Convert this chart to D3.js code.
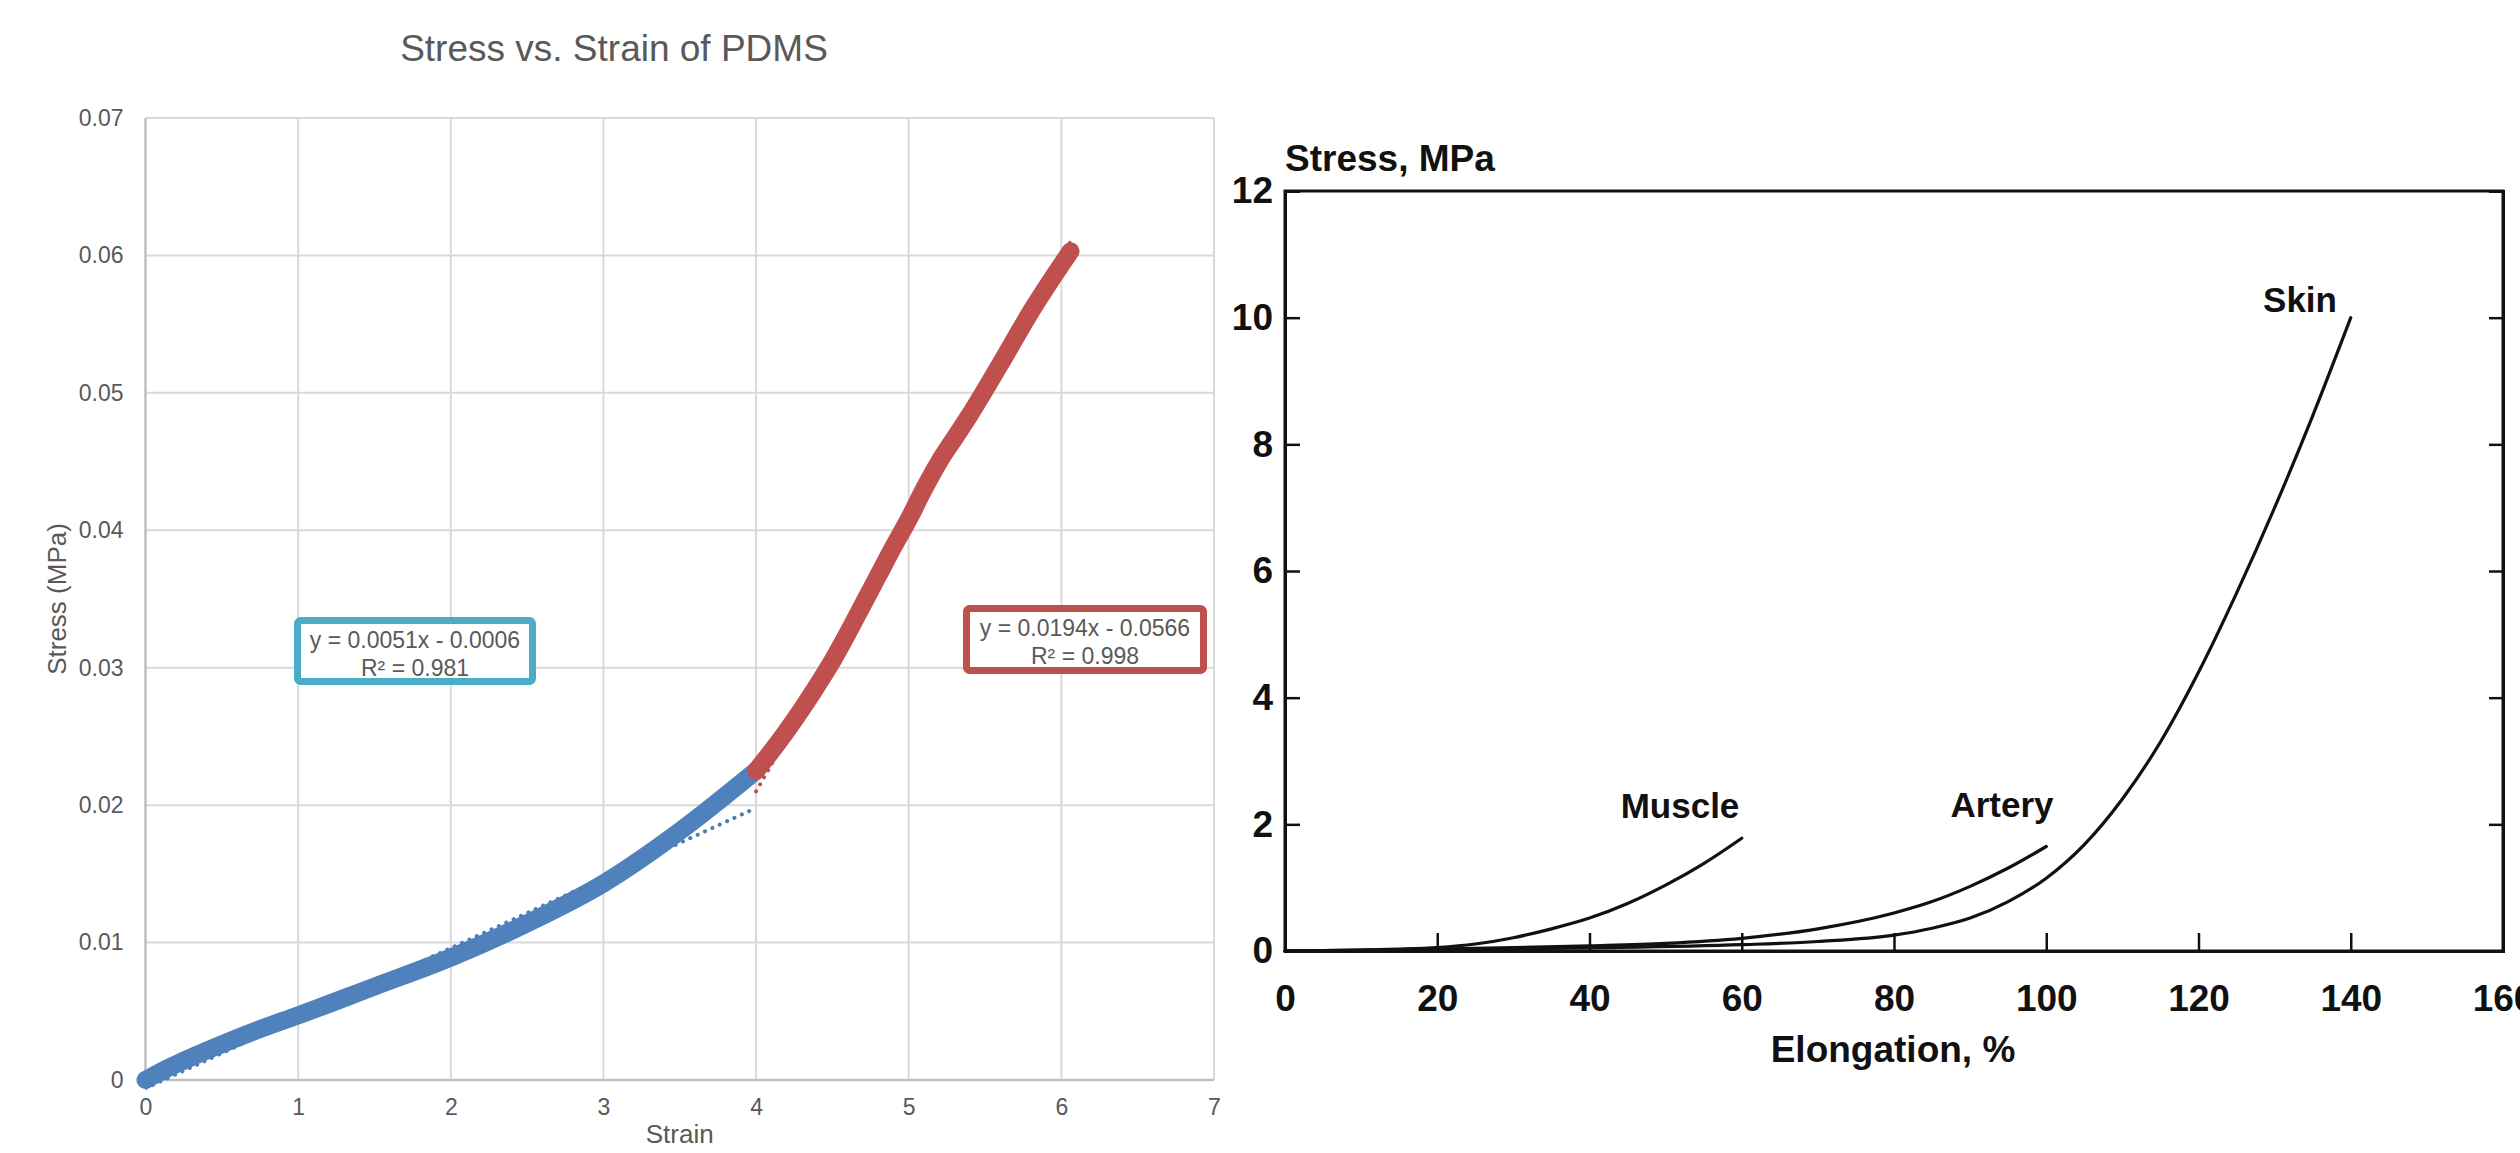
<!DOCTYPE html>
<html>
<head>
<meta charset="utf-8">
<script src="https://cdn.jsdelivr.net/npm/d3@7"></script>
<style>
  html, body { margin: 0; padding: 0; background: #ffffff; }
  svg { display: block; }
</style>
</head>
<body>
<svg id="chart" width="2520" height="1153"></svg>
<script>
// ---------------- DATA: left chart (PDMS) ----------------
const pdmsTitle = "Stress vs. Strain of PDMS";
const pdmsXTicks = [0, 1, 2, 3, 4, 5, 6, 7];
const pdmsYTicks = [0, 0.01, 0.02, 0.03, 0.04, 0.05, 0.06, 0.07];
const pdmsYTickLabels = ["0", "0.01", "0.02", "0.03", "0.04", "0.05", "0.06", "0.07"];

const blueStrain = [0, 0.05, 0.1, 0.25, 0.5, 0.75, 1.0, 1.5, 2.0, 2.5, 3.0, 3.5, 4.0];
const blueStress = [0, 0.0003, 0.0006, 0.0014, 0.0026, 0.0037, 0.0047, 0.0068, 0.0089, 0.0114, 0.0143, 0.0181, 0.0225];

const redStrain = [4.0, 4.1, 4.2, 4.3, 4.4, 4.5, 4.6, 4.7, 4.8, 4.9, 5.0, 5.1, 5.2, 5.3, 5.4, 5.6, 5.8, 6.06];
const redStress = [0.0225, 0.0239, 0.0254, 0.0270, 0.0287, 0.0305, 0.0325, 0.0346, 0.0367, 0.0388, 0.0408, 0.0430, 0.0450, 0.0467, 0.0484, 0.0521, 0.0559, 0.0603];

// trendline end points (from the displayed fit equations)
const blueTrendStrain = [0, 4.0];
const blueTrendStress = [-0.0006, 0.0198];
const redTrendStrain = [4.0, 6.06];
const redTrendStress = [0.0210, 0.0610];

const blueFitLabel = ["y = 0.0051x - 0.0006", "R² = 0.981"];
const redFitLabel = ["y = 0.0194x - 0.0566", "R² = 0.998"];

// ---------------- DATA: right chart (tissues) ----------------
const tissueXTicks = [0, 20, 40, 60, 80, 100, 120, 140, 160];
const tissueYTicks = [0, 2, 4, 6, 8, 10, 12];

const muscleElong = [0, 10, 15, 20, 25, 30, 35, 40, 45, 50, 55, 60];
const muscleStress = [0, 0.015, 0.03, 0.055, 0.11, 0.21, 0.35, 0.52, 0.75, 1.04, 1.38, 1.78];

const arteryElong = [0, 20, 40, 50, 60, 70, 80, 85, 90, 95, 100];
const arteryStress = [0, 0.03, 0.08, 0.12, 0.2, 0.35, 0.6, 0.78, 1.02, 1.31, 1.65];

const skinElong = [0, 20, 40, 60, 70, 80, 85, 90, 95, 100, 105, 110, 115, 120, 125, 130, 135, 140];
const skinStress = [0, 0.02, 0.05, 0.1, 0.15, 0.25, 0.36, 0.52, 0.78, 1.15, 1.68, 2.4, 3.3, 4.4, 5.65, 7.0, 8.45, 10];

const tissueLabels = ["Muscle", "Artery", "Skin"];

// ---------------- DRAW ----------------
const svg = d3.select("#chart");
const zip = (a, b) => a.map((v, i) => [v, b[i]]);

// ===== Left chart =====
const L = { left: 145.5, right: 1214, top: 118, bottom: 1080 };
const x = d3.scaleLinear().domain([0, 7]).range([L.left, L.right]);
const y = d3.scaleLinear().domain([0, 0.07]).range([L.bottom, L.top]);
const gray = "#595959";
const font = "'Liberation Sans', Arial, sans-serif";

const left = svg.append("g");

// gridlines
left.append("g").selectAll("line").data(pdmsXTicks.slice(1)).join("line")
  .attr("x1", d => x(d)).attr("x2", d => x(d))
  .attr("y1", L.top).attr("y2", L.bottom)
  .attr("stroke", "#d9d9d9").attr("stroke-width", 2);
left.append("g").selectAll("line").data(pdmsYTicks.slice(1)).join("line")
  .attr("x1", L.left).attr("x2", L.right)
  .attr("y1", d => y(d)).attr("y2", d => y(d))
  .attr("stroke", "#d9d9d9").attr("stroke-width", 2);

// axes lines
left.append("line").attr("x1", L.left).attr("x2", L.left).attr("y1", L.top).attr("y2", L.bottom)
  .attr("stroke", "#bfbfbf").attr("stroke-width", 2.5);
left.append("line").attr("x1", L.left).attr("x2", L.right).attr("y1", L.bottom).attr("y2", L.bottom)
  .attr("stroke", "#bfbfbf").attr("stroke-width", 2.5);

// tick labels via d3 axes
const xAxis = left.append("g").attr("transform", `translate(0,${L.bottom})`)
  .call(d3.axisBottom(x).tickValues(pdmsXTicks).tickSize(0).tickPadding(19).tickFormat(d3.format("d")));
xAxis.select(".domain").remove();
xAxis.selectAll("text").attr("font-family", font).attr("font-size", 23).attr("fill", gray);

const yAxis = left.append("g").attr("transform", `translate(${L.left},0)`)
  .call(d3.axisLeft(y).tickValues(pdmsYTicks).tickSize(0).tickPadding(22)
    .tickFormat((d, i) => pdmsYTickLabels[i]));
yAxis.select(".domain").remove();
yAxis.selectAll("text").attr("font-family", font).attr("font-size", 23).attr("fill", gray);

// titles
left.append("text").attr("x", 614).attr("y", 61).attr("text-anchor", "middle")
  .attr("font-family", font).attr("font-size", 37).attr("fill", gray).text(pdmsTitle);
left.append("text").attr("x", (L.left + L.right) / 2).attr("y", 1143).attr("text-anchor", "middle")
  .attr("font-family", font).attr("font-size", 26).attr("fill", gray).text("Strain");
left.append("text").attr("transform", `translate(66,${(L.top + L.bottom) / 2}) rotate(-90)`)
  .attr("text-anchor", "middle")
  .attr("font-family", font).attr("font-size", 26).attr("fill", gray).text("Stress (MPa)");

// clip
svg.append("clipPath").attr("id", "plotClip").append("rect")
  .attr("x", L.left).attr("y", L.top).attr("width", L.right - L.left).attr("height", L.bottom - L.top + 10);

const lineGen = d3.line().x(d => x(d[0])).y(d => y(d[1]));
const smooth = d3.line().x(d => x(d[0])).y(d => y(d[1])).curve(d3.curveMonotoneX);

const plot = left.append("g").attr("clip-path", "url(#plotClip)");
// trendlines beneath
plot.append("path").datum(zip(blueTrendStrain, blueTrendStress)).attr("d", lineGen)
  .attr("fill", "none").attr("stroke", "#4a7ebb").attr("stroke-width", 4)
  .attr("stroke-linecap", "round").attr("stroke-dasharray", "0.1 8");
plot.append("path").datum(zip(redTrendStrain, redTrendStress)).attr("d", lineGen)
  .attr("fill", "none").attr("stroke", "#C0504D").attr("stroke-width", 4)
  .attr("stroke-linecap", "round").attr("stroke-dasharray", "0.1 8");

// series (dense marker band)
left.append("path").datum(zip(blueStrain, blueStress)).attr("d", smooth)
  .attr("fill", "none").attr("stroke", "#4F81BD").attr("stroke-width", 18)
  .attr("stroke-linecap", "round").attr("stroke-linejoin", "round");
left.append("path").datum(zip(redStrain, redStress)).attr("d", smooth)
  .attr("fill", "none").attr("stroke", "#C0504D").attr("stroke-width", 18)
  .attr("stroke-linecap", "round").attr("stroke-linejoin", "round");

// fit label boxes
function fitBox(g, bx, by, bw, bh, color, lines) {
  g.append("rect").attr("x", bx).attr("y", by).attr("width", bw).attr("height", bh)
    .attr("rx", 3).attr("fill", "#ffffff").attr("stroke", color).attr("stroke-width", 7);
  lines.forEach((t, i) => {
    g.append("text").attr("x", bx + bw / 2).attr("y", by + 27 + i * 28)
      .attr("text-anchor", "middle").attr("font-family", font).attr("font-size", 23)
      .attr("fill", gray).text(t);
  });
}
fitBox(left, 297.5, 620.5, 235, 61, "#4BACC6", blueFitLabel);
fitBox(left, 966.5, 608.5, 237, 62, "#C0504D", redFitLabel);

// ===== Right chart =====
const R = { left: 1285, right: 2503, top: 191, bottom: 951 };
const xr = d3.scaleLinear().domain([0, 160]).range([R.left, R.right]);
const yr = d3.scaleLinear().domain([0, 12]).range([R.bottom, R.top]);
const bfont = "'Liberation Sans', Arial, Helvetica, sans-serif";
const ink = "#111111";
const right = svg.append("g");

// frame
right.append("rect").attr("x", R.left).attr("y", R.top).attr("width", R.right - R.left).attr("height", R.bottom - R.top)
  .attr("fill", "none").attr("stroke", ink).attr("stroke-width", 3);

// bottom axis
const xrAxis = right.append("g").attr("transform", `translate(0,${R.bottom})`)
  .call(d3.axisBottom(xr).tickValues(tissueXTicks).tickSize(-18).tickPadding(34).tickFormat(d3.format("d")));
xrAxis.select(".domain").attr("stroke", ink).attr("stroke-width", 3);
xrAxis.selectAll(".tick line").attr("stroke", ink).attr("stroke-width", 2.5)
  .attr("display", d => (d === 0 || d === 160) ? "none" : null);
xrAxis.selectAll("text").attr("font-family", bfont).attr("font-weight", "bold")
  .attr("font-size", 37).attr("fill", ink);

// left axis
const yrAxis = right.append("g").attr("transform", `translate(${R.left},0)`)
  .call(d3.axisLeft(yr).tickValues(tissueYTicks).tickSize(-15).tickPadding(12).tickFormat(d3.format("d")));
yrAxis.select(".domain").attr("stroke", ink).attr("stroke-width", 3);
yrAxis.selectAll(".tick line").attr("stroke", ink).attr("stroke-width", 2.5)
  .attr("display", d => (d === 0 || d === 12) ? "none" : null);
yrAxis.selectAll("text").attr("font-family", bfont).attr("font-weight", "bold")
  .attr("font-size", 37).attr("fill", ink);

// right axis ticks only
const yrAxisR = right.append("g").attr("transform", `translate(${R.right},0)`)
  .call(d3.axisRight(yr).tickValues(tissueYTicks.slice(1, -1)).tickSize(-14).tickFormat(""));
yrAxisR.select(".domain").attr("stroke", ink).attr("stroke-width", 3);
yrAxisR.selectAll(".tick line").attr("stroke", ink).attr("stroke-width", 2.5);

// axis titles
right.append("text").attr("x", R.left).attr("y", 171)
  .attr("font-family", bfont).attr("font-weight", "bold").attr("font-size", 37).attr("fill", ink)
  .text("Stress, MPa");
right.append("text").attr("x", 1893).attr("y", 1062).attr("text-anchor", "middle")
  .attr("font-family", bfont).attr("font-weight", "bold").attr("font-size", 37).attr("fill", ink)
  .text("Elongation, %");

// curves
const rLine = d3.line().x(d => xr(d[0])).y(d => yr(d[1])).curve(d3.curveMonotoneX);
[[muscleElong, muscleStress], [arteryElong, arteryStress], [skinElong, skinStress]].forEach(([e, s]) => {
  right.append("path").datum(zip(e, s)).attr("d", rLine)
    .attr("fill", "none").attr("stroke", ink).attr("stroke-width", 3.2).attr("stroke-linecap", "round");
});

// curve labels
const labelPos = [[1680, 818], [2002, 817], [2300, 312]];
tissueLabels.forEach((t, i) => {
  right.append("text").attr("x", labelPos[i][0]).attr("y", labelPos[i][1]).attr("text-anchor", "middle")
    .attr("font-family", bfont).attr("font-weight", "bold").attr("font-size", 35).attr("fill", ink)
    .text(t);
});
</script>
</body>
</html>
